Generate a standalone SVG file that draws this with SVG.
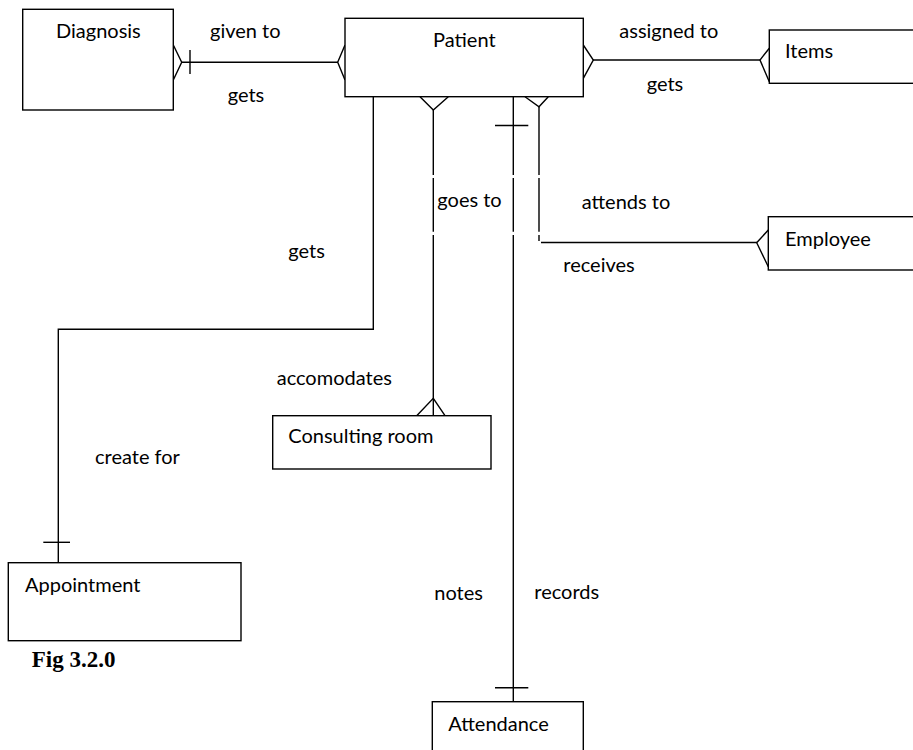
<svg xmlns="http://www.w3.org/2000/svg" width="913" height="750" viewBox="0 0 913 750">
<style>
.box{fill:#fff;stroke:#000;stroke-width:1.4}
.ln{fill:none;stroke:#000;stroke-width:1.4}
.lbl{font-family:Lato,"Liberation Sans",sans-serif;font-size:20px;fill:#000}
.fig{font-family:"Liberation Serif",serif;font-size:23px;font-weight:bold;fill:#000}
</style>
<rect width="913" height="750" fill="#fff"/>
<g id="connectors">
<!-- Diagnosis - Patient -->
<path class="ln" d="M182 62.3H338"/>
<path class="ln" d="M173.3 45L181.7 62.3L173.3 80"/>
<path class="ln" d="M190 50V74"/>
<path class="ln" d="M345 45L337.7 62.3L345 80"/>
<!-- Patient - Items -->
<path class="ln" d="M593 60H760"/>
<path class="ln" d="M583.3 45L593.3 60L583.3 78.3"/>
<path class="ln" d="M769.3 48.3L760 60L769.3 81.7"/>
<!-- Patient - Appointment -->
<path class="ln" d="M373.3 96.7V329.3H58.3V563"/>
<path class="ln" d="M43.3 542.3H70"/>
<!-- Patient - Consulting room -->
<path class="ln" d="M433.3 110V175M433.3 178V231.7M433.3 235V415.7"/>
<path class="ln" d="M420 96.7L433.3 110L448.3 96.7"/>
<path class="ln" d="M416.7 415.7L433.3 398.3L445 415.7"/>
<!-- Patient - Attendance -->
<path class="ln" d="M513.3 96.7V175M513.3 178V231.7M513.3 235V701.7"/>
<path class="ln" d="M495 125.5H528.3"/>
<path class="ln" d="M495 687.7H528.3"/>
<!-- Patient - Employee -->
<path class="ln" d="M539 106.7V175M539 178V231.7M539 235V241"/>
<path class="ln" d="M525 96.7L539 106.7L548.3 96.7"/>
<path class="ln" d="M541 242.5H757"/>
<path class="ln" d="M768.3 230L756.7 242.7L768.3 266.7"/>
</g>
<g id="diagnosis">
<rect class="box" x="22.7" y="9.3" width="150.6" height="100.7"/>
<text class="lbl" x="56" y="38.3">Diagnosis</text>
</g>
<g id="patient">
<rect class="box" x="345" y="18.3" width="238.3" height="78.4"/>
<text class="lbl" x="433" y="46.7">Patient</text>
</g>
<g id="items">
<rect class="box" x="769.3" y="30" width="150" height="53.3"/>
<text class="lbl" x="785" y="58.3">Items</text>
</g>
<g id="employee">
<rect class="box" x="768.3" y="216.7" width="150" height="53.3"/>
<text class="lbl" x="785" y="246">Employee</text>
</g>
<g id="consulting-room">
<rect class="box" x="272.7" y="415.7" width="218.3" height="53.3"/>
<text class="lbl" x="288.3" y="443.3">Consulting room</text>
</g>
<g id="appointment">
<rect class="box" x="8.3" y="562.7" width="232.7" height="78"/>
<text class="lbl" x="25" y="591.7">Appointment</text>
</g>
<g id="attendance">
<rect class="box" x="432.3" y="701.7" width="151" height="60"/>
<text class="lbl" x="448.3" y="730.7">Attendance</text>
</g>
<g id="labels">
<text class="lbl" x="210" y="38.3">given to</text>
<text class="lbl" x="227.7" y="101.7">gets</text>
<text class="lbl" x="619.3" y="38.3">assigned to</text>
<text class="lbl" x="646.7" y="90.7">gets</text>
<text class="lbl" x="437.3" y="206.7">goes to</text>
<text class="lbl" x="581.7" y="209.3">attends to</text>
<text class="lbl" x="563.3" y="271.7">receives</text>
<text class="lbl" x="288.3" y="258.3">gets</text>
<text class="lbl" x="276.7" y="385">accomodates</text>
<text class="lbl" x="95" y="464">create for</text>
<text class="lbl" x="434.3" y="600">notes</text>
<text class="lbl" x="534.3" y="599">records</text>
<text class="fig" x="31.7" y="667.3">Fig 3.2.0</text>
</g>
</svg>
